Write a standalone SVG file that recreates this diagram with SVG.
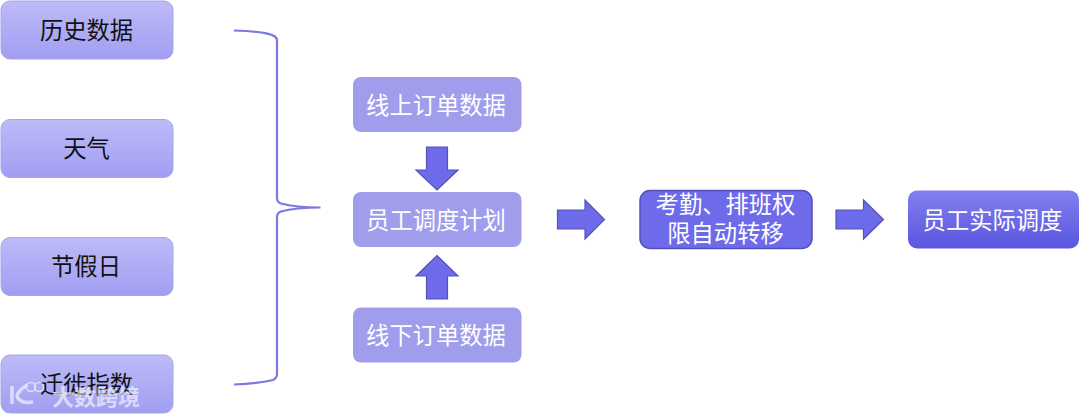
<svg xmlns="http://www.w3.org/2000/svg" width="1080" height="415" viewBox="0 0 1080 415">
<style>
text{font-family:"Noto Sans CJK SC","Liberation Sans",sans-serif;font-size:23.300px;text-anchor:middle}
.src{fill:url(#g1);stroke:#a9a4ee;stroke-width:1}
.mid{fill:#9f9dec}
.arr{fill:#6e6bea;stroke:#5451b8;stroke-width:1.2}
.d{fill:#111}
.w{fill:#fff}
</style>
<defs>
<linearGradient id="g1" x1="0" y1="0" x2="0" y2="1"><stop offset="0" stop-color="#bdbbf8"/><stop offset="1" stop-color="#a19ef2"/></linearGradient>
<linearGradient id="g2" x1="0" y1="0" x2="0" y2="1"><stop offset="0" stop-color="#827fef"/><stop offset="1" stop-color="#5a56e0"/></linearGradient>
</defs>
<rect width="1080" height="415" fill="#fff"/>
<g id="connectors">
<path d="M234 30.500C252 31 270 33 275 36.500Q277 38 277 41V198Q277 202 281 203.500C290 206 305 207.500 320.500 207.500C305 207.500 290 209 281 211.500Q277 213 277 217V374Q277 378 273 380C265 382 250 384 234 384.500" fill="none" stroke="#7a77e6" stroke-width="2.200"/>
<path class="arr" d="M426.500 147H447.500V170H458L437 190L416 170H426.500Z"/>
<path class="arr" d="M426.500 299H447.500V276H458L437 255.500L416 276H426.500Z"/>
<path class="arr" d="M557.500 210H585V200L604.500 219.500L585 239V229H557.500Z"/>
<path class="arr" d="M836 210H863.500V200L883.500 219.500L863.500 239V229H836Z"/>
</g>
<g id="n-history"><rect class="src" x="1" y="1" width="172" height="58" rx="9"/><text class="d" x="86.500" y="38.500">历史数据</text></g>
<g id="n-weather"><rect class="src" x="1" y="119.500" width="172" height="58" rx="9"/><text class="d" x="86.500" y="157">天气</text></g>
<g id="n-holiday"><rect class="src" x="1" y="237.500" width="172" height="58" rx="9"/><text class="d" x="86" y="274.500">节假日</text></g>
<g id="n-migration"><rect class="src" x="1" y="355" width="172" height="58" rx="9"/><text class="d" x="86.500" y="392.500">迁徙指数</text></g>
<g id="n-online"><rect class="mid" x="353" y="77" width="168.500" height="55" rx="8"/><text class="w" x="436" y="113.500">线上订单数据</text></g>
<g id="n-plan"><rect class="mid" x="353" y="192" width="168.500" height="55" rx="8"/><text class="w" x="436" y="228.500">员工调度计划</text></g>
<g id="n-offline"><rect class="mid" x="353" y="307.500" width="168.500" height="55" rx="8"/><text class="w" x="436" y="343.500">线下订单数据</text></g>
<g id="n-transfer"><rect x="640" y="190.500" width="172" height="58" rx="10" fill="#6e6bea" stroke="#5451b8" stroke-width="1.500"/><text class="w"><tspan x="725.500" y="213">考勤、排班权</tspan><tspan x="725.500" y="241.500">限自动转移</tspan></text></g>
<g id="n-actual"><rect x="908" y="190.500" width="171" height="58" rx="9" fill="url(#g2)"/><text class="w" x="992.500" y="228.500">员工实际调度</text></g>
<g id="watermark" opacity="0.6">
<path d="M12 386V404M27 385Q17 392 17 396Q19 404 33 402" fill="none" stroke="#fff" stroke-width="3.500"/>
<circle cx="31" cy="387" r="4.500" fill="none" stroke="#fff" stroke-width="1.500"/><circle cx="39" cy="387" r="4.500" fill="none" stroke="#fff" stroke-width="1.500"/>
<text x="96" y="405" fill="#fff" style="font-size:22px;font-weight:700">大数跨境</text>
</g>
</svg>
